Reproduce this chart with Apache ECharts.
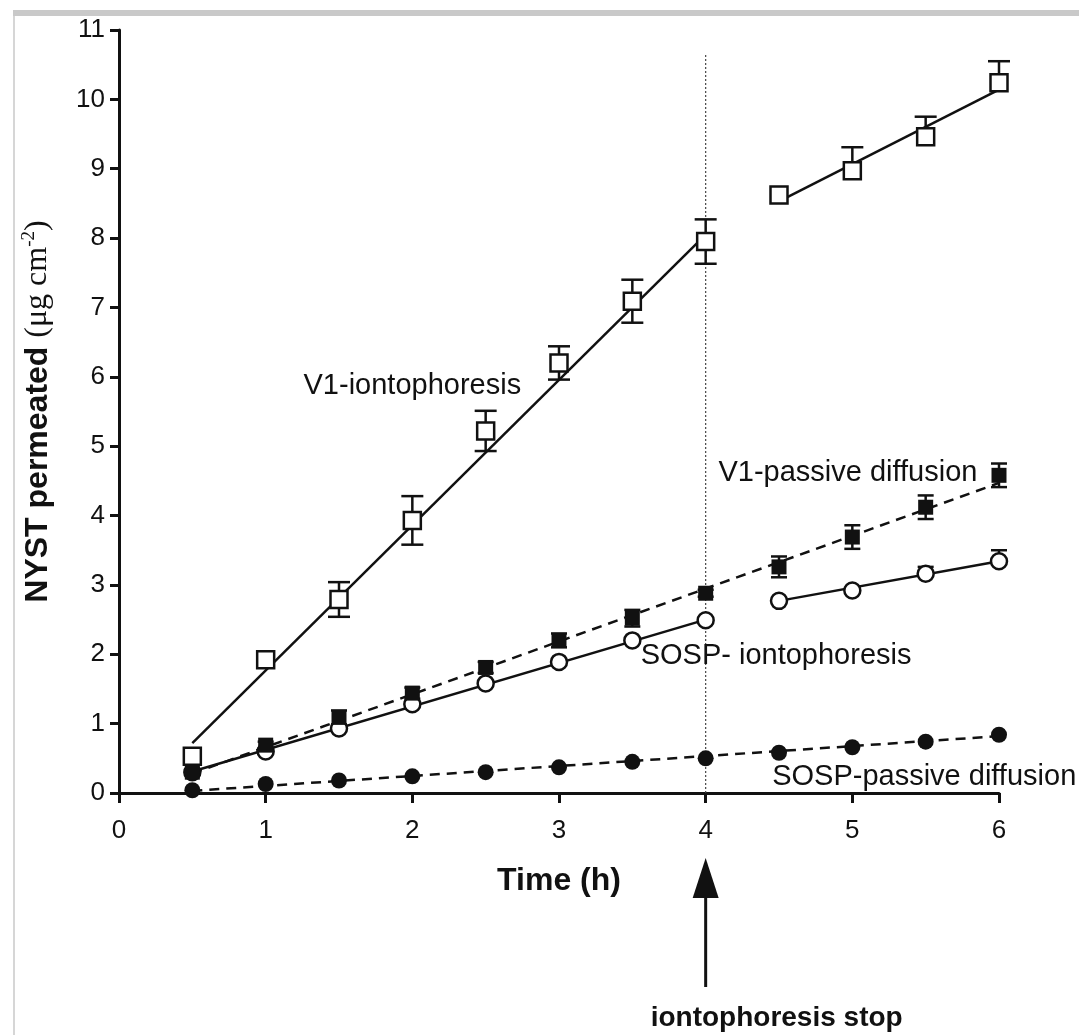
<!DOCTYPE html>
<html>
<head>
<meta charset="utf-8">
<script src="https://cdn.jsdelivr.net/npm/echarts@6/dist/echarts.min.js"></script>
<style>
  html, body { margin: 0; padding: 0; background: #fff; }
  #chart { width: 1079px; height: 1035px; }
</style>
</head>
<body>
<div id="chart"></div>
<script>
// sampling times (h)
const time = [0.5, 1, 1.5, 2, 2.5, 3, 3.5, 4, 4.5, 5, 5.5, 6];

// V1 - iontophoresis (open squares)
const v1Ionto = [0.53, 1.92, 2.79, 3.93, 5.22, 6.2, 7.09, 7.95, 8.62, 8.97, 9.46, 10.24];
const v1IontoErrUp = [0, 0, 0.25, 0.35, 0.29, 0.24, 0.31, 0.32, 0, 0.34, 0.29, 0.31];
const v1IontoErrDown = [0, 0, 0.25, 0.35, 0.29, 0.24, 0.31, 0.32, 0, 0, 0, 0];

// V1 - passive diffusion (filled squares)
const v1Passive = [0.3, 0.69, 1.09, 1.44, 1.81, 2.2, 2.52, 2.88, 3.26, 3.69, 4.12, 4.58];
const v1PassiveErr = [0, 0.05, 0.1, 0.08, 0.08, 0.1, 0.12, 0.05, 0.15, 0.17, 0.17, 0.17];

// SOSP - iontophoresis (open circles)
const sospIonto = [0.3, 0.6, 0.93, 1.28, 1.58, 1.89, 2.2, 2.49, 2.77, 2.92, 3.16, 3.34];
const sospIontoErrUp = [0, 0, 0, 0, 0, 0, 0, 0, 0, 0, 0.1, 0.16];

// SOSP - passive diffusion (filled circles)
const sospPassive = [0.04, 0.13, 0.18, 0.24, 0.3, 0.37, 0.45, 0.5, 0.58, 0.66, 0.74, 0.84];

// regression lines (end points)
const v1IontoFitA = [[0.5, 0.72], [4, 8.05]];
const v1IontoFitB = [[4.5, 8.53], [6, 10.14]];
const v1PassiveFit = [[0.5, 0.28], [6, 4.47]];
const sospIontoFitA = [[0.5, 0.31], [4, 2.5]];
const sospIontoFitB = [[4.5, 2.77], [6, 3.34]];
const sospPassiveFit = [[0.5, 0.03], [6, 0.82]];

// iontophoresis stop
const stopTime = 4;
const stopLineTop = 10.65;

// text labels in the plot (data units)
const curveLabels = [
  { text: 'V1-iontophoresis', x: 2.0, y: 5.87 },
  { text: 'V1-passive diffusion', x: 4.97, y: 4.62 },
  { text: 'SOSP- iontophoresis', x: 4.48, y: 1.97 },
  { text: 'SOSP-passive diffusion', x: 5.49, y: 0.23 }
];

const xTicks = [0, 6, 1];
const yTicks = [0, 11, 1];

const FONT = "'Liberation Sans', Arial, Helvetica, sans-serif";
const INK = '#111';

let myChart = echarts.init(document.getElementById('chart'));

function pts (ys) {
  return time.map((t, i) => [t, ys[i]]);
}

function errData (ys, up, down) {
  let out = [];
  time.forEach((t, i) => {
    if (up[i] > 0 || down[i] > 0) out.push([t, ys[i], up[i], down[i]]);
  });
  return out;
}

function errSeries (data, capW) {
  return {
    type: 'custom',
    z: 1,
    silent: true,
    encode: { x: 0, y: 1 },
    data: data,
    renderItem: function (params, api) {
      let x = api.value(0), y = api.value(1), up = api.value(2), dn = api.value(3);
      let top = api.coord([x, y + up]);
      let bot = api.coord([x, y - dn]);
      let style = { stroke: INK, lineWidth: 2.5 };
      let children = [{
        type: 'line', shape: { x1: top[0], y1: top[1], x2: bot[0], y2: bot[1] }, style: style
      }];
      if (up > 0) children.push({
        type: 'line', shape: { x1: top[0] - capW / 2, y1: top[1], x2: top[0] + capW / 2, y2: top[1] }, style: style
      });
      if (dn > 0) children.push({
        type: 'line', shape: { x1: bot[0] - capW / 2, y1: bot[1], x2: bot[0] + capW / 2, y2: bot[1] }, style: style
      });
      return { type: 'group', children: children };
    }
  };
}

function fitLine (data, dashed) {
  return {
    type: 'line',
    z: 3,
    silent: true,
    symbol: 'none',
    data: data,
    lineStyle: { color: INK, width: 2.5, type: dashed ? [10, 7] : 'solid' }
  };
}

function markers (data, symbol, size, filled) {
  return {
    type: 'scatter',
    z: filled ? 5 : 4,
    silent: true,
    symbol: symbol,
    symbolSize: size,
    data: data,
    itemStyle: filled
      ? { color: INK, opacity: 1 }
      : { color: '#fff', borderColor: INK, borderWidth: 2.5, opacity: 1 }
  };
}

myChart.setOption({
  animation: false,
  backgroundColor: '#fff',
  grid: {
    left: 119,
    right: 80,
    top: 30,
    bottom: 242
  },
  xAxis: {
    type: 'value',
    min: xTicks[0],
    max: xTicks[1],
    interval: xTicks[2],
    name: 'Time (h)',
    nameLocation: 'middle',
    nameGap: 72,
    nameTextStyle: { fontFamily: FONT, fontSize: 32, fontWeight: 'bold', color: INK },
    splitLine: { show: false },
    axisLine: { lineStyle: { color: INK, width: 3 } },
    axisTick: { length: 10, lineStyle: { color: INK, width: 3 } },
    axisLabel: { fontFamily: FONT, fontSize: 26, color: INK, margin: 25 }
  },
  yAxis: {
    type: 'value',
    min: yTicks[0],
    max: yTicks[1],
    interval: yTicks[2],
    name: '{b|NYST permeated }{n|(μg cm}{s|-2}{n|)}',
    nameLocation: 'middle',
    nameRotate: 90,
    nameGap: 63,
    nameTextStyle: {
      rich: {
        b: { fontFamily: FONT, fontSize: 32, fontWeight: 'bold', color: INK, lineHeight: 36 },
        n: { fontFamily: "'Liberation Serif', 'Times New Roman', serif", fontSize: 32, color: INK, lineHeight: 36 },
        s: { fontFamily: "'Liberation Serif', 'Times New Roman', serif", fontSize: 19, color: INK, verticalAlign: 'top', lineHeight: 20 }
      }
    },
    splitLine: { show: false },
    axisLine: { lineStyle: { color: INK, width: 3 } },
    axisTick: { length: 9, lineStyle: { color: INK, width: 3 } },
    axisLabel: { fontFamily: FONT, fontSize: 26, color: INK, margin: 14 }
  },
  series: [
    // dotted line where iontophoresis stops
    {
      type: 'line',
      z: 0,
      silent: true,
      symbol: 'none',
      data: [[stopTime, 0], [stopTime, stopLineTop]],
      lineStyle: { color: '#444', width: 1.2, type: [2, 2] }
    },
    errSeries(errData(v1Ionto, v1IontoErrUp, v1IontoErrDown), 22),
    errSeries(errData(v1Passive, v1PassiveErr, v1PassiveErr), 16),
    errSeries(errData(sospIonto, sospIontoErrUp, time.map(() => 0)), 16),
    fitLine(v1IontoFitA, false),
    fitLine(v1IontoFitB, false),
    fitLine(v1PassiveFit, true),
    fitLine(sospIontoFitA, false),
    fitLine(sospIontoFitB, false),
    fitLine(sospPassiveFit, true),
    markers(pts(sospIonto), 'circle', 16, false),
    markers(pts(v1Ionto), 'rect', 17, false),
    markers(pts(sospPassive), 'circle', 16, true),
    markers(pts(v1Passive), 'rect', 15, true),
    // curve names
    {
      type: 'scatter',
      z: 6,
      silent: true,
      symbolSize: 0,
      itemStyle: { opacity: 1 },
      data: curveLabels.map(d => ({ value: [d.x, d.y], name: d.text })),
      label: {
        show: true,
        position: 'inside',
        formatter: '{b}',
        fontFamily: FONT,
        fontSize: 29,
        color: INK
      }
    }
  ]
});

// arrow + caption under the x axis, tied to the stop time
let px = myChart.convertToPixel({ xAxisIndex: 0 }, stopTime);
myChart.setOption({
  graphic: [
    { type: 'rect', shape: { x: 13, y: 10, width: 1066, height: 6 }, style: { fill: '#c9c9c9' } },
    { type: 'rect', shape: { x: 13, y: 16, width: 2, height: 1019 }, style: { fill: '#d6d6d6' } },
    { type: 'line', shape: { x1: px, y1: 987, x2: px, y2: 893 }, style: { stroke: INK, lineWidth: 3 } },
    { type: 'polygon', shape: { points: [[px, 858], [px - 13, 898], [px + 13, 898]] }, style: { fill: INK } },
    {
      type: 'text',
      x: px + 71,
      y: 1018,
      style: {
        text: 'iontophoresis stop',
        fontFamily: FONT,
        fontSize: 28,
        fontWeight: 'bold',
        fill: INK,
        align: 'center',
        verticalAlign: 'middle'
      }
    }
  ]
});

window.addEventListener('resize', () => {
  myChart.resize();
});
</script>
</body>
</html>
